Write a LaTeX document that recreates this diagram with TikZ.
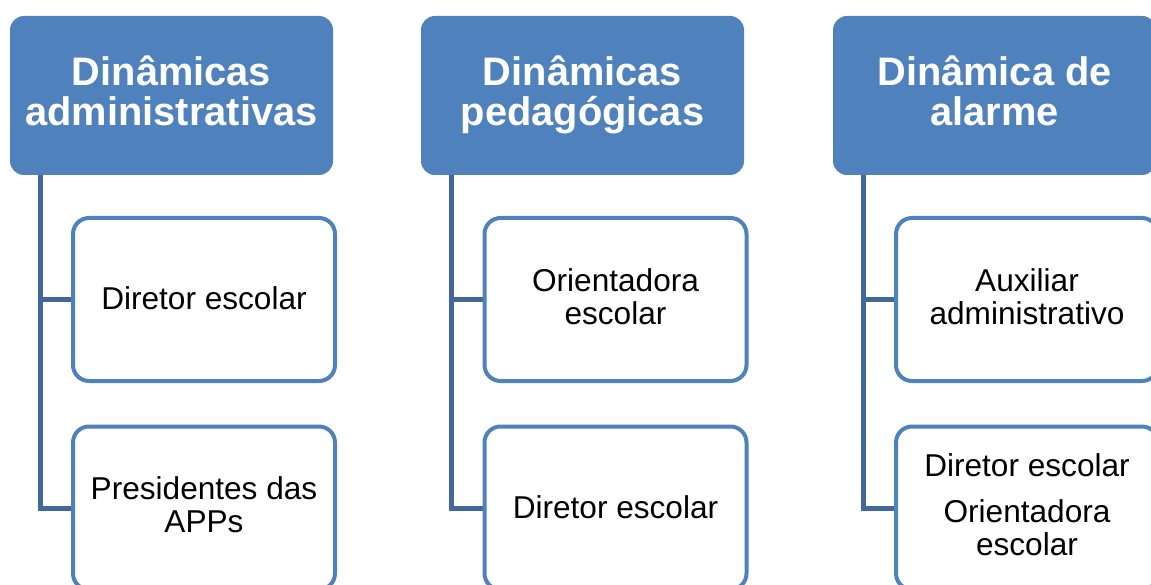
\documentclass[tikz,border=0pt]{standalone}
\usepackage{fontspec}
\setmainfont{Liberation Sans}
\usetikzlibrary{backgrounds}
\definecolor{headblue}{HTML}{4F81BD}
\definecolor{linkblue}{HTML}{41689A}
\begin{document}
\begin{tikzpicture}[x=1pt,y=-1pt,
  head/.style={fill=headblue, draw=none, rounded corners=14pt,
    minimum width=323pt, minimum height=159pt, inner sep=0pt,
    align=center, text=white, font=\fontsize{39.8}{40}\selectfont\bfseries,
    execute at begin node={\rule{0pt}{35pt}},
    execute at end node={\rule[-9pt]{0pt}{9pt}}},
  childbox/.style={draw=headblue, line width=4pt, fill=white, rounded corners=16pt,
    minimum width=262pt, minimum height=163pt, inner sep=0pt,
    align=center, text=black, font=\fontsize{31.6}{33}\selectfont,
    execute at begin node={\rule{0pt}{26pt}},
    execute at end node={\rule[-6pt]{0pt}{6pt}}},
  conn/.style={draw=linkblue, line width=5pt}]
\useasboundingbox (0,0) rectangle (1151,585);
\clip (0,0) rectangle (1151,585);

% headers
\node[head] (h1) at (171.5,95.5) {Dinâmicas\\administrativas};
\node[head] (h2) at (582.5,95.5) {Dinâmicas\\pedagógicas};
\node[head] (h3) at (994.5,95.5) {Dinâmica de\\alarme};

% children
\node[childbox] (c11) at (204,299.5) {Diretor escolar};
\node[childbox] (c12) at (204,508) {Presidentes das\\APPs};
\node[childbox] (c21) at (615.5,299.5) {Orientadora\\escolar};
\node[childbox] (c22) at (615.5,508) {Diretor escolar};
\node[childbox] (c31) at (1027,299.5) {Auxiliar\\administrativo};
\node[childbox] (c32) at (1027,508) {Diretor escolar\\[13pt]Orientadora\\escolar};

% connector tops
\coordinate (t1) at (40,175);
\coordinate (t2) at (451,175);
\coordinate (t3) at (863,175);

\begin{scope}[on background layer]
\draw[conn] (t1) |- (c11.west);
\draw[conn] (t1) |- (c12.west);
\draw[conn] (t2) |- (c21.west);
\draw[conn] (t2) |- (c22.west);
\draw[conn] (t3) |- (c31.west);
\draw[conn] (t3) |- (c32.west);
\end{scope}
\end{tikzpicture}
\end{document}
